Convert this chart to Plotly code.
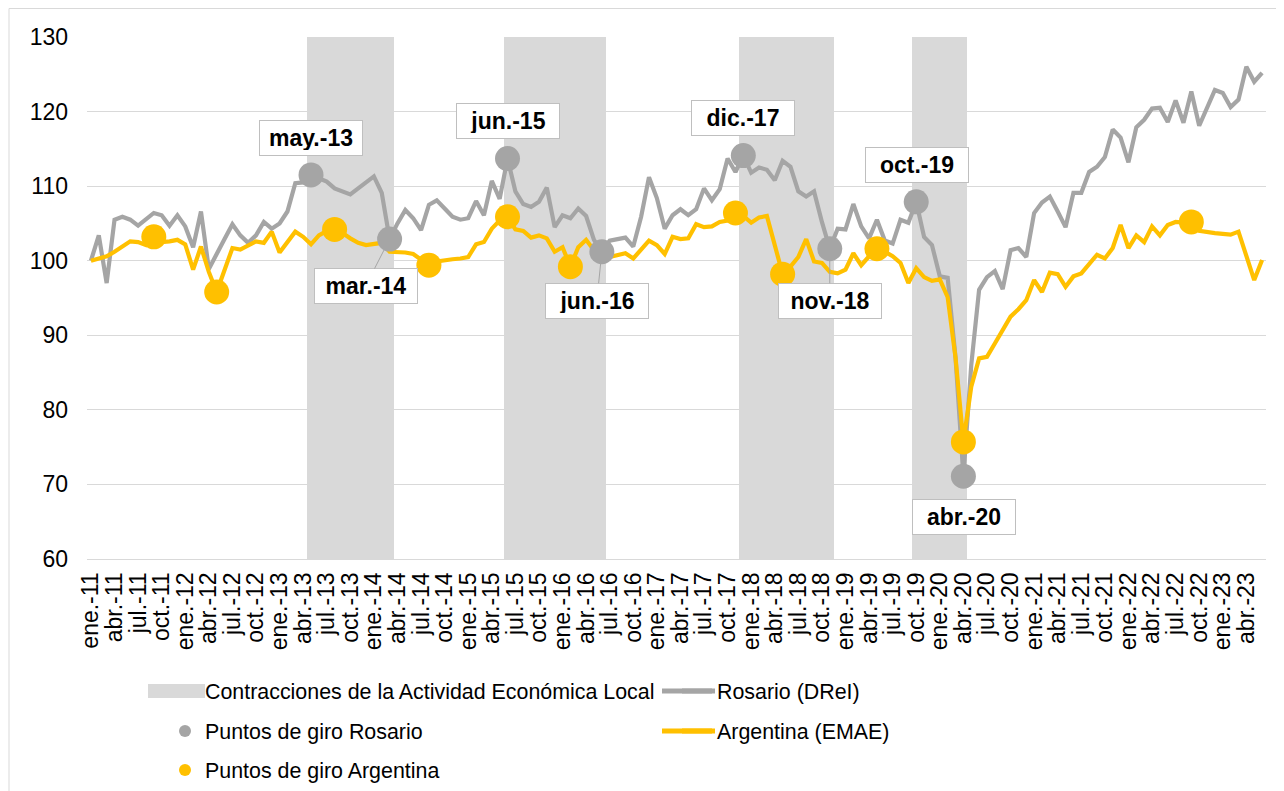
import plotly.graph_objects as go

# ---------------- data ----------------
MONTH_ABBR = ["ene.", "feb.", "mar.", "abr.", "may.", "jun.",
              "jul.", "ago.", "sep.", "oct.", "nov.", "dic."]
FIRST_YEAR = 2011
N_MONTHS = 150  # ene.-11 ... jun.-23

month_labels = [f"{MONTH_ABBR[k % 12]}-{str(FIRST_YEAR + k // 12)[2:]}" for k in range(N_MONTHS)]

# Rosario (DReI) index, ene-11 = 100
rosario = [
    100.0, 103.4, 97.0, 105.5, 105.9, 105.5, 104.7, 105.5, 106.4, 106.1, 104.7, 106.1,   # 2011
    104.6, 101.8, 106.6, 98.9, 100.8, 102.9, 104.9, 103.4, 102.4, 103.4, 105.2, 104.3,   # 2012
    105.0, 106.6, 110.4, 110.5, 111.5, 111.1, 110.6, 109.7, 109.3, 108.9, 109.7, 110.5,  # 2013
    111.3, 109.1, 102.9, 105.0, 106.8, 105.7, 104.1, 107.5, 108.1, 107.0, 105.9, 105.5,  # 2014
    105.7, 108.0, 106.1, 110.7, 108.3, 113.7, 109.3, 107.6, 107.2, 107.9, 109.8, 104.5,  # 2015
    106.1, 105.7, 107.0, 106.0, 102.8, 101.2, 102.7, 102.9, 103.1, 101.9, 105.9, 111.2,  # 2016
    108.4, 104.3, 106.1, 106.9, 106.1, 106.9, 109.7, 108.1, 109.6, 113.7, 111.9, 114.1,  # 2017
    111.8, 112.5, 112.2, 110.8, 113.4, 112.6, 109.3, 108.6, 109.3, 105.2, 101.6, 104.3,  # 2018
    104.2, 107.6, 104.6, 103.0, 105.5, 102.7, 102.3, 105.5, 105.1, 107.9, 103.2, 102.1,  # 2019
    97.9, 97.7, 87.0, 71.1, 86.0, 96.1, 97.8, 98.6, 96.2, 101.4, 101.7, 100.5,           # 2020
    106.4, 107.8, 108.6, 106.6, 104.5, 109.1, 109.1, 111.9, 112.6, 113.9, 117.6, 116.5,  # 2021
    113.2, 117.9, 118.9, 120.4, 120.5, 118.6, 121.5, 118.5, 122.7, 118.1, 120.6, 122.9,  # 2022
    122.5, 120.6, 121.6, 126.0, 124.0, 125.2,                                            # 2023
]

# Argentina (EMAE) index, ene-11 = 100
argentina = [
    100.0, 100.3, 100.6, 101.2, 101.9, 102.6, 102.5, 102.1, 103.2, 102.5, 102.6, 102.8,  # 2011
    102.2, 98.8, 101.9, 98.5, 95.8, 98.8, 101.7, 101.5, 102.0, 102.6, 102.4, 103.9,      # 2012
    101.1, 102.5, 103.9, 103.2, 102.2, 103.4, 104.0, 104.2, 103.7, 103.0, 102.4, 102.1,  # 2013
    102.2, 102.4, 101.2, 101.2, 101.1, 100.9, 100.2, 99.4, 99.9, 100.1, 100.2, 100.3,    # 2014
    100.5, 102.2, 102.5, 104.3, 105.4, 105.9, 104.2, 104.0, 103.1, 103.4, 103.0, 101.2,  # 2015
    101.8, 99.2, 101.8, 102.8, 101.5, 100.0, 100.5, 100.8, 101.0, 100.3, 101.4, 102.7,   # 2016
    102.1, 100.9, 103.2, 102.9, 103.0, 104.9, 104.5, 104.6, 105.2, 105.4, 106.4, 106.0,  # 2017
    105.1, 105.8, 106.0, 102.0, 98.2, 99.2, 100.5, 102.9, 99.9, 99.7, 98.5, 98.3,        # 2018
    98.8, 101.0, 99.4, 100.6, 101.6, 101.2, 100.6, 99.7, 97.0, 99.0, 97.8, 97.3,         # 2019
    97.5, 95.1, 87.0, 75.7, 83.1, 86.9, 87.1, 88.9, 90.8, 92.5, 93.5, 94.7,              # 2020
    97.4, 95.8, 98.4, 98.2, 96.5, 97.9, 98.3, 99.6, 100.8, 100.3, 101.7, 104.8,          # 2021
    101.7, 103.4, 102.5, 104.6, 103.4, 104.8, 105.2, 105.1, 105.2, 104.0, 103.8, 103.7,  # 2022
    103.6, 103.5, 103.9, 100.7, 97.4, 100.1,                                             # 2023
]

turning_rosario = ["may.-13", "mar.-14", "jun.-15", "jun.-16",
                   "dic.-17", "nov.-18", "oct.-19", "abr.-20"]
turning_argentina = ["sep.-11", "may.-12", "ago.-13", "ago.-14", "jun.-15", "feb.-16",
                     "nov.-17", "may.-18", "may.-19", "abr.-20", "sep.-22"]
contractions = [("may.-13", "mar.-14"), ("jun.-15", "jun.-16"),
                ("dic.-17", "nov.-18"), ("oct.-19", "abr.-20")]

# ---------------- styling ----------------
FONT = "Liberation Sans, Arial, sans-serif"
GRAY = "#A5A5A5"
YELLOW = "#FFC000"
SHADE = "#D9D9D9"
GRID = "#D9D9D9"
Y_MIN, Y_MAX = 60, 130

# label placement (pixel offsets of box centre from the point, leader line?)
label_pos = {
    "may.-13": (0, -37, False),
    "mar.-14": (-24, 47, True),
    "jun.-15": (0, -38, False),
    "jun.-16": (-5, 49, True),
    "dic.-17": (0, -38, False),
    "nov.-18": (0, 52, True),
    "oct.-19": (1, -37, False),
    "abr.-20": (1, 41, False),
}

idx = {lab: i for i, lab in enumerate(month_labels)}
x_all = list(range(N_MONTHS))

# figure geometry (the page places the figure 8 px from the top-left corner)
W, H = 1276, 783
L, R, T, B = 79, 18, 29, 232
pw, ph = W - L - R, H - T - B
OFF = 8


def px(xp):  # page pixel -> paper x
    return (xp - OFF - L) / pw


def py(yp):  # page pixel -> paper y
    return (H - B - (yp - OFF)) / ph


fig = go.Figure()

# contraction shading
c_x, c_w = [], []
for a, b in contractions:
    ia, ib = idx[a], idx[b]
    c_x.append((ia + ib) / 2)
    c_w.append(ib - ia + 1)
fig.add_trace(go.Bar(
    x=c_x, y=[Y_MAX - Y_MIN] * len(c_x), base=[Y_MIN] * len(c_x), width=c_w,
    marker=dict(color=SHADE, line=dict(width=0)), showlegend=False, hoverinfo="skip",
))
# legend entry for shading
fig.add_trace(go.Scatter(
    x=[None], y=[None], mode="lines", line=dict(color=SHADE, width=12),
    name="Contracciones de la Actividad Económica Local", legend="legend", legendrank=1,
))

fig.add_trace(go.Scatter(
    x=x_all, y=rosario, mode="lines", line=dict(color=GRAY, width=4.2),
    name="Rosario (DReI)", legend="legend", legendrank=2,
))
fig.add_trace(go.Scatter(
    x=x_all, y=argentina, mode="lines", line=dict(color=YELLOW, width=4.2),
    name="Argentina (EMAE)", legend="legend2", legendrank=2,
))
tr_x = [idx[l] for l in turning_rosario]
fig.add_trace(go.Scatter(
    x=tr_x, y=[rosario[i] for i in tr_x], mode="markers",
    marker=dict(color=GRAY, size=25),
    name="Puntos de giro Rosario", legend="legend2", legendrank=1,
))
ta_x = [idx[l] for l in turning_argentina]
fig.add_trace(go.Scatter(
    x=ta_x, y=[argentina[i] for i in ta_x], mode="markers",
    marker=dict(color=YELLOW, size=25),
    name="Puntos de giro Argentina", legend="legend3", legendrank=1,
))

# labels
for lab in turning_rosario:
    i = idx[lab]
    dx, dy, leader = label_pos[lab]
    common = dict(
        x=i, y=rosario[i], text=f"<b>{lab}</b>",
        font=dict(family=FONT, size=23, color="black"),
        bgcolor="white", bordercolor="#BFBFBF", borderwidth=1, borderpad=5,
        width=92, height=24, align="center", valign="middle",
    )
    if leader:
        fig.add_annotation(**common, showarrow=True, arrowhead=0, arrowwidth=1,
                           arrowcolor=GRAY, standoff=12, ax=dx, ay=dy)
    else:
        fig.add_annotation(**common, showarrow=False, xshift=dx, yshift=-dy)

# outer frame (left and top edges visible)
fig.add_shape(type="line", xref="paper", yref="paper", x0=px(9), x1=px(9), y0=py(8.5), y1=py(800),
              line=dict(color="#D9D9D9", width=1))
fig.add_shape(type="line", xref="paper", yref="paper", x0=px(9), x1=px(1290), y0=py(8.5), y1=py(8.5),
              line=dict(color="#D9D9D9", width=1))

# wider legend keys, as in the original
fig.add_shape(type="rect", xref="paper", yref="paper", x0=px(148), x1=px(205), y0=py(698), y1=py(684),
              fillcolor=SHADE, line=dict(width=0))
fig.add_shape(type="line", xref="paper", yref="paper", x0=px(662), x1=px(715), y0=py(691), y1=py(691),
              line=dict(color=GRAY, width=5))
fig.add_shape(type="line", xref="paper", yref="paper", x0=px(662), x1=px(715), y0=py(731), y1=py(731),
              line=dict(color=YELLOW, width=5))

LEG_X = (165 - OFF) / W
legend_common = dict(
    orientation="h", xref="container", yref="container", xanchor="left", yanchor="middle",
    font=dict(family=FONT, size=21.4, color="black"), bgcolor="rgba(0,0,0,0)",
    entrywidth=467, entrywidthmode="pixels", itemsizing="constant", traceorder="normal",
)
fig.update_layout(
    width=W, height=H,
    margin=dict(l=L, r=R, t=T, b=B),
    paper_bgcolor="white", plot_bgcolor="white",
    font=dict(family=FONT, size=21, color="black"),
    bargap=0,
    legend=dict(**legend_common, x=LEG_X, y=1 - (691 - OFF) / H),
    legend2=dict(**legend_common, x=LEG_X, y=1 - (731 - OFF) / H),
    legend3=dict(**legend_common, x=LEG_X, y=1 - (770 - OFF) / H),
    xaxis=dict(
        range=[-0.5, N_MONTHS - 0.5], tickmode="array",
        tickvals=x_all[::3], ticktext=month_labels[::3],
        tickangle=-90, tickfont=dict(family=FONT, size=23, color="black"),
        showgrid=False, zeroline=False, ticks="", ticklabelstandoff=3,
        showline=True, linecolor=GRID, linewidth=1.3,
    ),
    yaxis=dict(
        range=[Y_MIN, Y_MAX], dtick=10, tick0=60,
        showgrid=True, gridcolor=GRID, gridwidth=1.3, zeroline=False,
        tickfont=dict(family=FONT, size=23, color="black"), ticks="",
        ticklabelstandoff=18,
    ),
    hovermode=False,
)

fig.write_html("out.html")
